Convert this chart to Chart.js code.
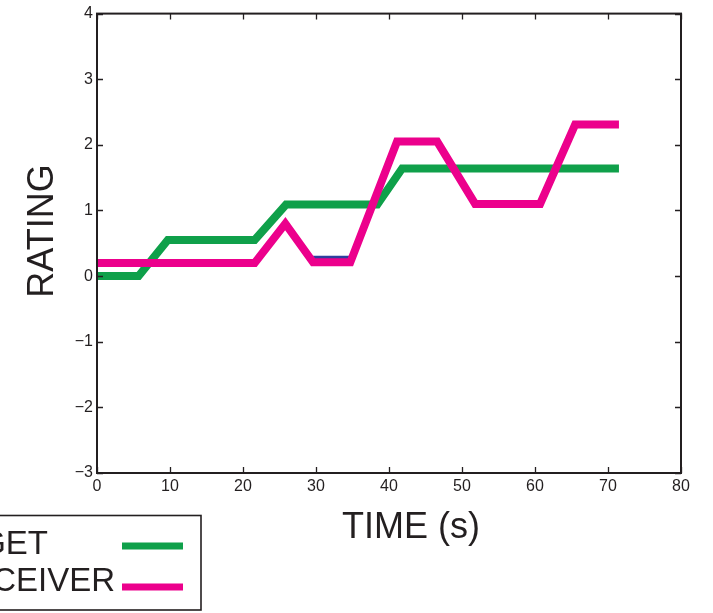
<!DOCTYPE html>
<html>
<head>
<meta charset="utf-8">
<title>Rating over time</title>
<script src="https://cdn.jsdelivr.net/npm/chart.js@4.4.1/dist/chart.umd.min.js"></script>
<style>
  html, body { margin: 0; padding: 0; background: #ffffff; }
  #chart { display: block; }
</style>
</head>
<body>
<canvas id="chart" width="713" height="613"></canvas>
<script>
// Rating traces (time in seconds, rating on a -3..4 scale)
const targetTimes      = [0, 5.7, 9.7, 21.6, 25.9, 38.4, 41.8, 71.5];
const targetRatings    = [0, 0, 0.55, 0.55, 1.09, 1.09, 1.64, 1.64];
const perceiverTimes   = [0, 21.6, 25.8, 29.6, 34.7, 41.1, 46.6, 51.8, 55.5, 60.7, 65.5, 71.5];
const perceiverRatings = [0.2, 0.2, 0.8, 0.21, 0.21, 2.05, 2.05, 1.1, 1.1, 1.1, 2.31, 2.31];
const hiddenTimes      = [29.6, 34.7];
const hiddenRatings    = [0.25, 0.25];

const xTicks = [0, 10, 20, 30, 40, 50, 60, 70, 80];
const yTicks = [-3, -2, -1, 0, 1, 2, 3, 4];
const seriesNames = ['TARGET', 'PERCEIVER'];

const GREEN = '#0fa04a';
const PINK = '#ec008c';
const BLUE = '#2e3f9e';
const INK = '#231f20';
const FONT = '"Liberation Sans", Arial, Helvetica, sans-serif';

const toPoints = (xs, ys) => xs.map((x, i) => ({ x: x, y: ys[i] }));

// Box frame with inward tick marks, axis titles and legend box
const decorations = {
  id: 'decorations',
  afterDraw(chart) {
    const ctx = chart.ctx;
    const a = chart.chartArea;
    const xs = chart.scales.x;
    const ys = chart.scales.y;
    ctx.save();

    // frame
    ctx.strokeStyle = INK;
    ctx.lineWidth = 2;
    ctx.strokeRect(a.left, a.top, a.right - a.left, a.bottom - a.top);

    // inward ticks on all four sides
    const tl = 6;
    ctx.lineWidth = 1.3;
    ctx.beginPath();
    xTicks.forEach(v => {
      const px = Math.round(xs.getPixelForValue(v)) + 0.5;
      ctx.moveTo(px, a.bottom); ctx.lineTo(px, a.bottom - tl);
      ctx.moveTo(px, a.top); ctx.lineTo(px, a.top + tl);
    });
    yTicks.forEach(v => {
      const py = Math.round(ys.getPixelForValue(v)) + 0.5;
      ctx.moveTo(a.left, py); ctx.lineTo(a.left + tl, py);
      ctx.moveTo(a.right, py); ctx.lineTo(a.right - tl, py);
    });
    ctx.stroke();

    // axis titles
    ctx.fillStyle = INK;
    ctx.font = '36px ' + FONT;
    ctx.textAlign = 'center';
    ctx.textBaseline = 'alphabetic';
    ctx.fillText('TIME (s)', 411, 538);
    ctx.save();
    ctx.translate(53, 231);
    ctx.rotate(-Math.PI / 2);
    ctx.fillText('RATING', 0, 0);
    ctx.restore();

    // legend
    ctx.strokeStyle = INK;
    ctx.lineWidth = 1.6;
    ctx.strokeRect(-20, 515.5, 221, 94.5);
    ctx.font = '33px ' + FONT;
    ctx.textAlign = 'right';
    ctx.fillText(seriesNames[0], 48, 554);
    ctx.fillText(seriesNames[1], 115, 591);
    ctx.lineWidth = 7;
    ctx.strokeStyle = GREEN;
    ctx.beginPath(); ctx.moveTo(122, 546); ctx.lineTo(183, 546); ctx.stroke();
    ctx.strokeStyle = PINK;
    ctx.beginPath(); ctx.moveTo(122, 587); ctx.lineTo(183, 587); ctx.stroke();

    ctx.restore();
  }
};

new Chart(document.getElementById('chart'), {
  type: 'line',
  data: {
    datasets: [
      {
        label: seriesNames[0],
        data: toPoints(targetTimes, targetRatings),
        borderColor: GREEN,
        borderWidth: 8,
        order: 3
      },
      {
        label: 'hidden',
        data: toPoints(hiddenTimes, hiddenRatings),
        borderColor: BLUE,
        borderWidth: 8,
        order: 2
      },
      {
        label: seriesNames[1],
        data: toPoints(perceiverTimes, perceiverRatings),
        borderColor: PINK,
        borderWidth: 8,
        order: 1
      }
    ]
  },
  options: {
    responsive: false,
    animation: false,
    devicePixelRatio: 1,
    layout: { padding: { left: 0, top: 12, right: 32, bottom: 0 } },
    elements: {
      line: { tension: 0, fill: false, borderJoinStyle: 'miter', borderCapStyle: 'butt' },
      point: { radius: 0, hoverRadius: 0 }
    },
    plugins: {
      legend: { display: false },
      tooltip: { enabled: false }
    },
    scales: {
      x: {
        type: 'linear',
        min: 0,
        max: 80,
        afterBuildTicks: s => { s.ticks = xTicks.map(v => ({ value: v })); },
        afterFit: s => { s.height = 140; },
        grid: { display: false, drawTicks: false },
        border: { display: false },
        ticks: {
          autoSkip: false,
          maxRotation: 0,
          padding: 4,
          color: INK,
          font: { family: FONT, size: 16 },
          callback: v => String(v)
        }
      },
      y: {
        type: 'linear',
        min: -3,
        max: 4,
        afterBuildTicks: s => { s.ticks = yTicks.map(v => ({ value: v })); },
        afterFit: s => { s.width = 97; },
        grid: { display: false, drawTicks: false },
        border: { display: false },
        ticks: {
          autoSkip: false,
          padding: 4,
          color: INK,
          font: { family: FONT, size: 16 },
          callback: v => String(v).replace('-', '\u2212')
        }
      }
    }
  },
  plugins: [decorations]
});
</script>
</body>
</html>
